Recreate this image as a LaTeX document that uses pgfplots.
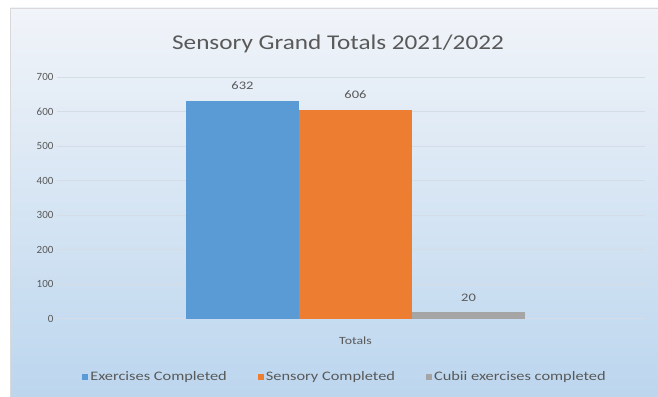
\documentclass[border=0pt]{standalone}
\usepackage{fontspec}
\setmainfont{Carlito}
\newfontfamily\titlefont[FakeStretch=1.2]{Carlito}
\newfontfamily\legfont[FakeStretch=1.26]{Carlito}
\usepackage{pgfplots}
\pgfplotsset{compat=1.18}
\definecolor{cblue}{HTML}{5B9BD5}
\definecolor{corange}{HTML}{ED7D31}
\definecolor{cgray}{HTML}{A5A5A5}
\definecolor{ctext}{HTML}{595959}
\definecolor{bgtop}{HTML}{F1F4F9}
\definecolor{bgbot}{HTML}{BCD6EE}
\definecolor{gridc}{HTML}{D5DCE6}
\begin{document}
\begin{tikzpicture}[x=1pt,y=1pt]
\fill[white] (0,0) rectangle (658,396);
\shade[top color=bgtop, bottom color=bgbot] (10,0) rectangle (658,388);
\draw[gray!30] (10,0) -- (10,388) -- (658,388);
\node[text=ctext, font=\titlefont\fontsize{21}{25}\selectfont] at (338,352) {Sensory Grand Totals 2021/2022};
\begin{axis}[
  at={(57pt,77pt)}, anchor=south west,
  scale only axis, width=588pt, height=242pt,
  xmin=-298.5, xmax=289.5, ymin=0, ymax=700,
  ytick={0,100,...,700},
  xtick={0}, xticklabels={Totals},
  major tick length=0pt,
  axis line style={draw=none},
  ymajorgrids, grid style={gridc, line width=1pt},
  tick label style={text=ctext, font=\fontsize{11}{13}\selectfont},
  /pgf/number format/assume math mode=true,
  xticklabel style={yshift=-14pt, font=\legfont\fontsize{11}{13}\selectfont},
  ybar, bar width=113pt,
  nodes near coords,
  nodes near coords style={text=ctext, font=\legfont\fontsize{11.5}{13}\selectfont, yshift=7pt},
  legend style={at={(345pt-57pt,-58pt)}, anchor=center, draw=none, fill=none,
    legend columns=3, font=\legfont\fontsize{13}{15}\selectfont, text=ctext,
    /tikz/every even column/.append style={column sep=29pt}},
  legend image code/.code={\fill[#1,draw=none] (0pt,-3pt) rectangle (6pt,3pt);},
  clip=false,
]
\addplot[fill=cblue, draw=none, bar shift=-113pt] coordinates {(0,632)};
\addlegendentry{Exercises Completed}
\addplot[fill=corange, draw=none, bar shift=0pt] coordinates {(0,606)};
\addlegendentry{Sensory Completed}
\addplot[fill=cgray, draw=none, bar shift=113pt] coordinates {(0,20)};
\addlegendentry{Cubii exercises completed}
\end{axis}
\pgfresetboundingbox
\path (0,0) rectangle (658,396);
\end{tikzpicture}
\end{document}
